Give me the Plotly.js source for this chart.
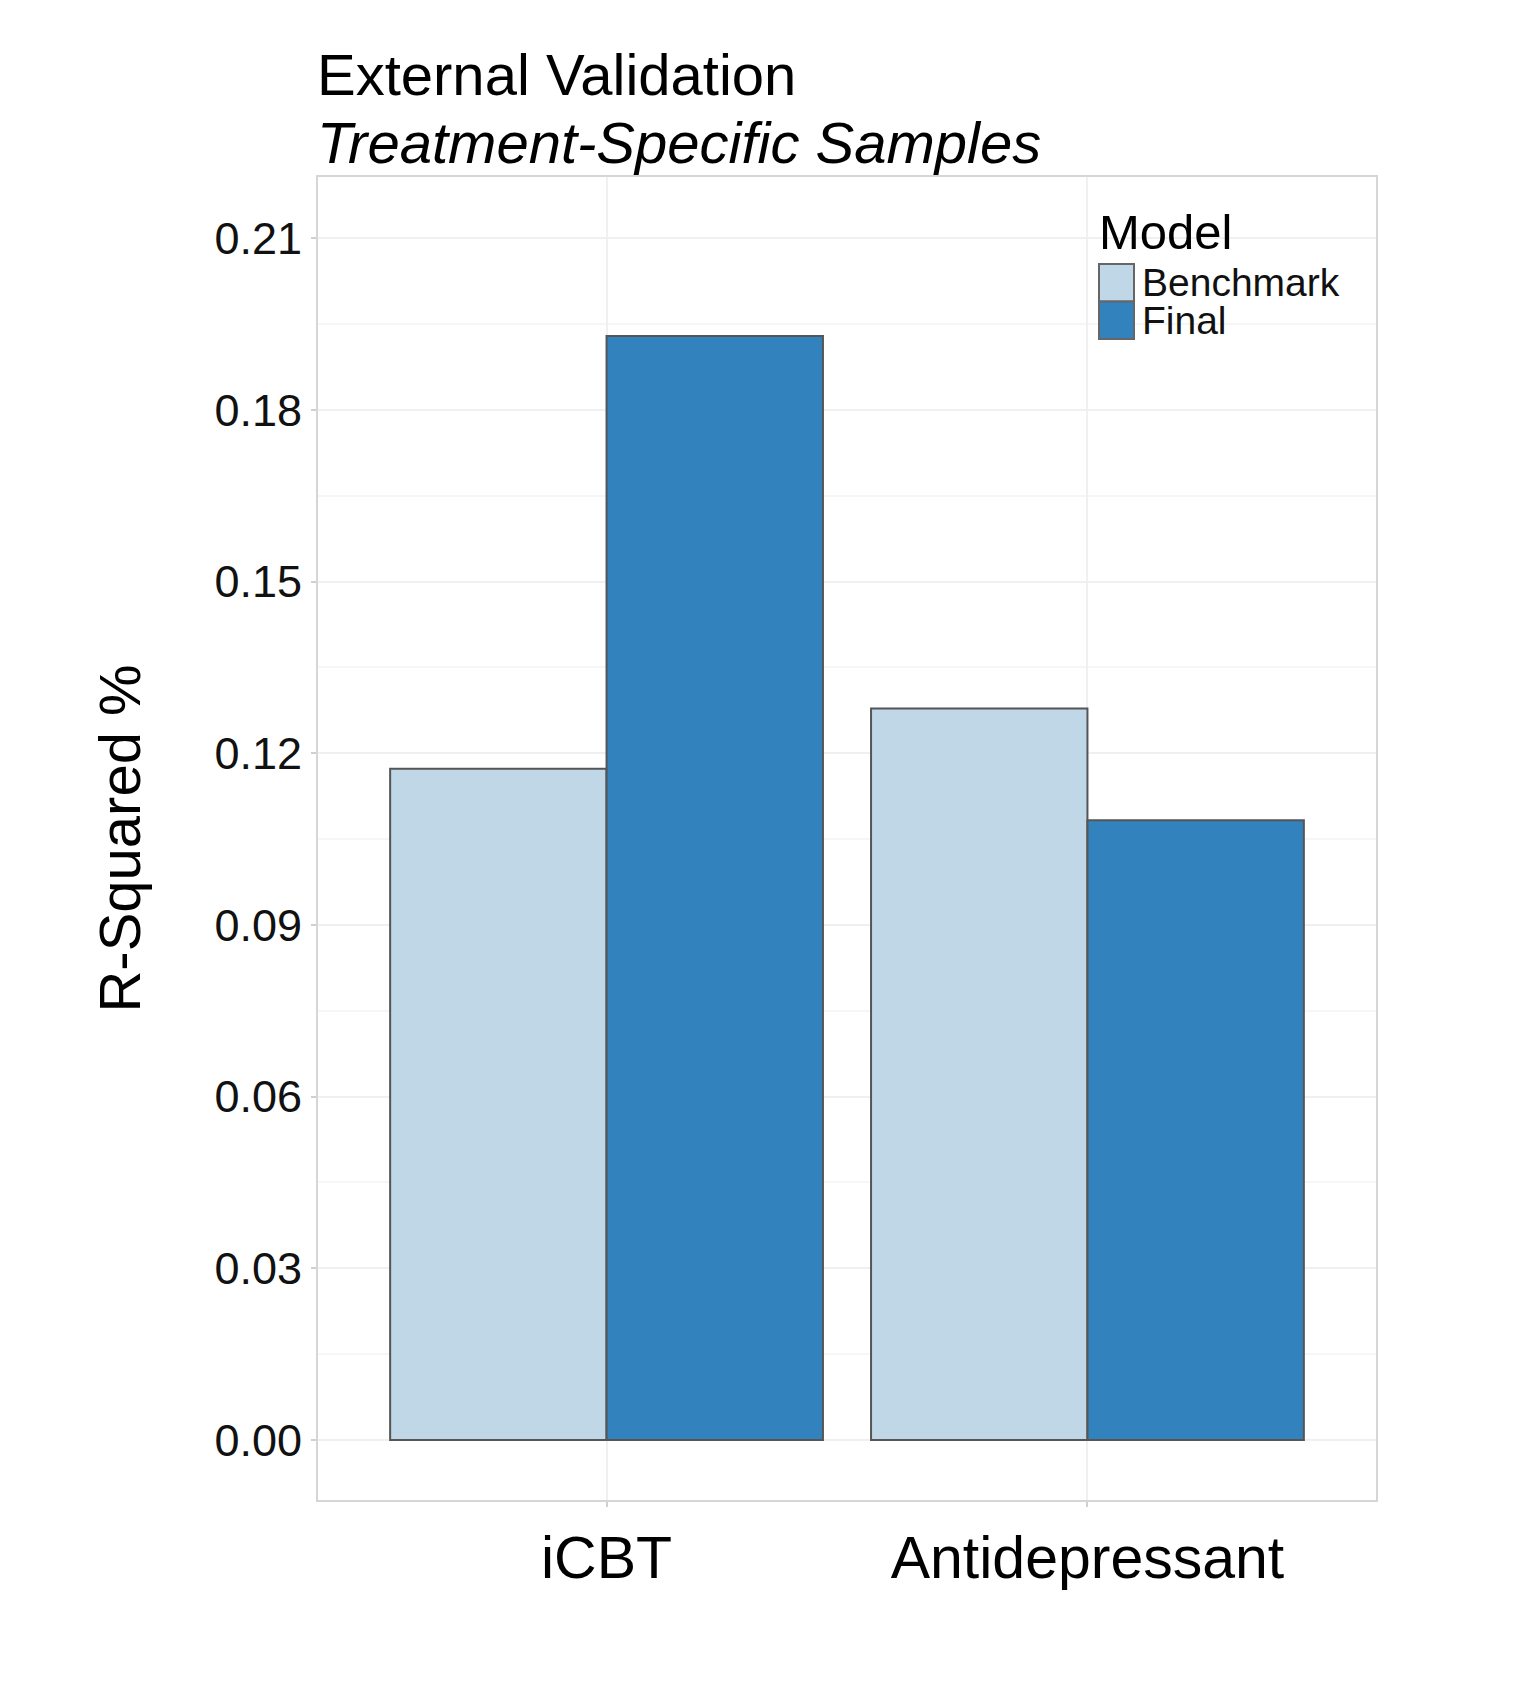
<!DOCTYPE html>
<html>
<head>
<meta charset="utf-8">
<script src="https://cdn.plot.ly/plotly-3.0.1.min.js"></script>
<style>html,body{margin:0;padding:0;background:#fff;}#chart{width:1514px;height:1681px;}</style>
</head>
<body>
<div id="chart"></div>
<script>
// Data
const categories = ["iCBT", "Antidepressant"];
const seriesNames = ["Benchmark", "Final"];
const benchmarkValues = [0.1173, 0.1278];
const finalValues = [0.1929, 0.1083];
const seriesColors = ["#bfd7e6", "#3282bd"];
const yTickValues = [0, 0.03, 0.06, 0.09, 0.12, 0.15, 0.18, 0.21];
const yTickLabels = ["0.00", "0.03", "0.06", "0.09", "0.12", "0.15", "0.18", "0.21"];
const titleText = "External Validation";
const subtitleText = "Treatment-Specific Samples";
const legendTitle = "Model";

const W = 1514, H = 1681;
const L = 318, R = 1376, T = 177, B = 1500;
const pw = R - L, ph = B - T;
const px = x => (x - L) / pw;
const py = y => (B - y) / ph;

const FONT = "Liberation Sans, Arial, Helvetica, sans-serif";
const allSeries = [benchmarkValues, finalValues];

const traces = allSeries.map((vals, i) => ({
  type: "bar",
  name: seriesNames[i],
  x: categories,
  y: vals,
  marker: { color: seriesColors[i], line: { color: "#555555", width: 2 } },
  showlegend: false,
  hoverinfo: "x+y+name"
}));

const shapes = [];
const annotations = [];
// Titles
annotations.push({
  xref: "paper", yref: "paper", x: px(315), y: py(74), xanchor: "left", yanchor: "middle",
  text: titleText, showarrow: false, font: { family: FONT, size: 58, color: "#000" }
});
annotations.push({
  xref: "paper", yref: "paper", x: px(315), y: py(143), xanchor: "left", yanchor: "middle",
  text: "<i>" + subtitleText + "</i>", showarrow: false, font: { family: FONT, size: 58, color: "#000" }
});
// Custom legend (ggplot style)
annotations.push({
  xref: "paper", yref: "paper", x: px(1097), y: py(232), xanchor: "left", yanchor: "middle",
  text: legendTitle, showarrow: false, font: { family: FONT, size: 49, color: "#000" }
});
const keyTop = 264, keyH = 37.5;
seriesNames.forEach((n, i) => {
  const y0 = keyTop + i * keyH, y1 = y0 + keyH;
  shapes.push({
    type: "rect", xref: "paper", yref: "paper",
    x0: px(1099), x1: px(1134), y0: py(y1), y1: py(y0),
    fillcolor: seriesColors[i], line: { color: "#666666", width: 2 }
  });
  annotations.push({
    xref: "paper", yref: "paper", x: px(1140), y: py((y0 + y1) / 2), xanchor: "left", yanchor: "middle",
    text: n, showarrow: false, font: { family: FONT, size: 39, color: "#111" }
  });
});

const layout = {
  width: W, height: H,
  margin: { l: L, r: W - R, t: T, b: H - B, pad: 0 },
  paper_bgcolor: "#ffffff",
  plot_bgcolor: "#ffffff",
  barmode: "group",
  bargap: 0.1,
  bargroupgap: 0,
  font: { family: FONT, color: "#000" },
  xaxis: {
    type: "category",
    range: [-0.6, 1.6],
    showgrid: true, gridcolor: "#f0f0f0", gridwidth: 2,
    showline: true, linecolor: "#d6d6d6", linewidth: 2, mirror: true,
    ticks: "outside", ticklen: 5, tickcolor: "#d0d0d0", tickwidth: 2,
    tickfont: { family: FONT, size: 59, color: "#000" },
    zeroline: false, fixedrange: true
  },
  yaxis: {
    range: [-0.0105, 0.2207],
    tickvals: yTickValues, ticktext: yTickLabels,
    showgrid: true, gridcolor: "#f0f0f0", gridwidth: 2,
    minor: { dtick: 0.015, tick0: 0.015, showgrid: true, gridcolor: "#f6f6f6", gridwidth: 2 },
    showline: true, linecolor: "#d6d6d6", linewidth: 2, mirror: true,
    ticks: "outside", ticklen: 5, tickcolor: "#d0d0d0", tickwidth: 2,
    tickfont: { family: FONT, size: 45, color: "#111" },
    title: { text: "R-Squared %", font: { family: FONT, size: 58, color: "#000" }, standoff: 55 },
    zeroline: false, fixedrange: true
  },
  shapes: shapes,
  annotations: annotations
};

Plotly.newPlot("chart", traces, layout, { displayModeBar: false, staticPlot: true });
</script>
</body>
</html>
